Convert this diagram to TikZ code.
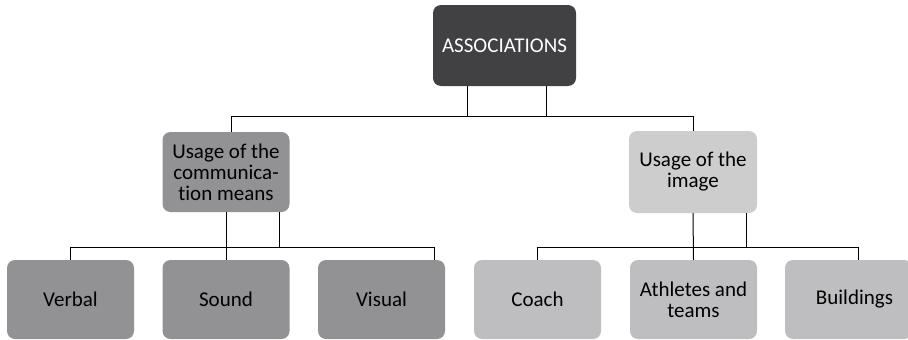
\documentclass[tikz,border=0pt]{standalone}
\usepackage{fontspec}
\setmainfont{Carlito}[Ligatures=NoCommon]
\usepackage{tikz}
\usetikzlibrary{positioning}

\definecolor{darkbox}{RGB}{65,64,66}
\definecolor{midgray}{RGB}{146,146,149}
\definecolor{lightgray}{RGB}{205,205,205}
\definecolor{leafgray}{RGB}{190,190,192}

\begin{document}
\begin{tikzpicture}[
  x=1pt, y=-1pt,
  font=\fontsize{21}{21}\selectfont,
  box/.style={rounded corners=8pt,align=center,inner sep=0pt},
  topbox/.style={box,fill=darkbox,text=white,minimum width=143pt,minimum height=81pt},
  leftbox/.style={box,fill=midgray,minimum width=127pt,minimum height=80pt},
  rightbox/.style={box,fill=lightgray,minimum width=128pt,minimum height=82pt},
  leafleft/.style={box,fill=midgray,minimum width=127pt,minimum height=79pt},
  leafright/.style={box,fill=leafgray,minimum width=127pt,minimum height=79pt},
  link/.style={line width=1pt}
]
  \useasboundingbox (0,0) rectangle (908,340);
  \clip (0,0) rectangle (908,340);

  \node[topbox] (assoc) at (504.5,45.5) {ASSOCIATIONS};
  \node[leftbox] (comm) at (226,172) {Usage of the\\communica-\\tion means};
  \node[rightbox] (img) at (693,172) {Usage of the\\image};

  \node[leafleft] (verbal) at (70.5,299.5) {Verbal};
  \node[leafleft] (sound) at (226,299.5) {Sound};
  \node[leafleft] (visual) at (381.5,299.5) {Visual};
  \node[leafright] (coach) at (537.5,299.5) {Coach};
  \node[leafright] (athl) at (693.5,299.5) {Athletes and\\teams};
  \node[leafright] (build) at (848.5,299.5) {\hspace{12pt}Buildings};

  \coordinate (topbus) at (0,116);
  \coordinate (lowbus) at (0,247);

  % first level
  \draw[link] ([xshift=5pt]comm.north) |- (img.north |- topbus) -- (img.north);
  \draw[link] ([xshift=-37.5pt]assoc.south) -- ([xshift=-37.5pt]assoc.south |- topbus);
  \draw[link] ([xshift=41.5pt]assoc.south) -- ([xshift=41.5pt]assoc.south |- topbus);

  % left branch
  \draw[link] (verbal.north) |- ([xshift=53pt]visual.north |- lowbus) -- ([xshift=53pt]visual.north);
  \draw[link] (comm.south) -- (sound.north);
  \draw[link] ([xshift=53pt]comm.south) -- ([xshift=53pt]comm.south |- lowbus);

  % right branch
  \draw[link] (coach.north) |- ([xshift=9.5pt]build.north |- lowbus) -- ([xshift=9.5pt]build.north);
  \draw[link] (img.south) -- (athl.north);
  \draw[link] ([xshift=53pt]img.south) -- ([xshift=53pt]img.south |- lowbus);
\end{tikzpicture}
\end{document}
